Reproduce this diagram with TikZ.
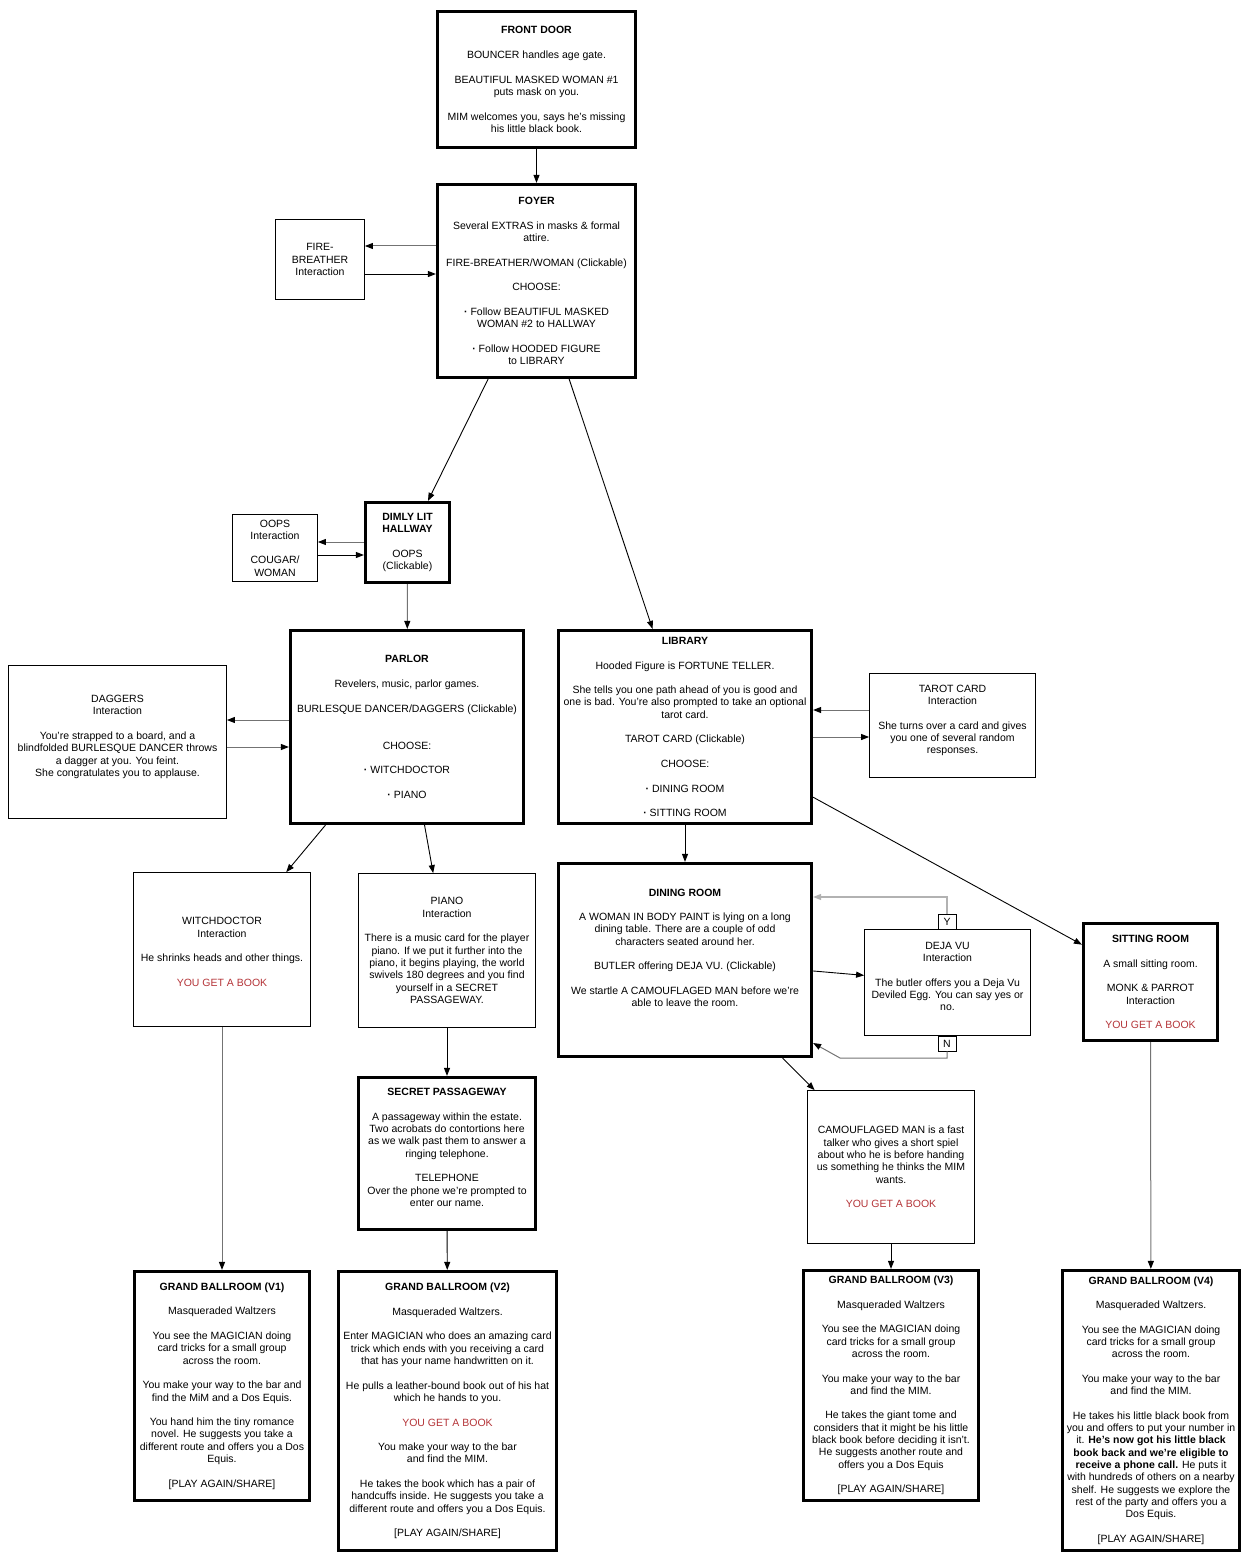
\documentclass[tikz,border=0pt]{standalone}
\usepackage{fontspec}
\setmainfont{Liberation Sans}
\usepackage{xcolor}
\usetikzlibrary{arrows.meta,positioning,calc}
\definecolor{bookred}{RGB}{180,52,56}
\newcommand{\pgap}{\\[12.3pt]}
\newcommand{\book}{\textcolor{bookred}{YOU GET A BOOK}}
\newcommand{\bul}{\textbf{·}}

\begin{document}
\begin{tikzpicture}[x=1pt, y=-1pt]
    % Define styles
    \tikzstyle{room} = [rectangle, draw=black, line width=3.2pt, align=center, inner sep=2pt, font=\fontsize{10.5}{12.3}\selectfont]
    \tikzstyle{interaction} = [rectangle, draw=black, line width=0.8pt, align=center, inner sep=2pt, font=\fontsize{10.5}{12.3}\selectfont]
    \tikzstyle{tab} = [rectangle, draw=black, line width=0.8pt, minimum width=18pt, minimum height=15pt, inner sep=0pt, font=\fontsize{10.5}{12.3}\selectfont]
    \tikzstyle{link} = [draw=black, line width=0.9pt, -{Triangle[length=8pt,width=6pt]}]
    \tikzstyle{dimlink} = [draw=black!55, line width=1pt, -{Triangle[length=8pt,width=6pt,color=black]}]
    \tikzstyle{palelink} = [draw=black!30, line width=1.2pt, -{Triangle[length=8pt,width=6pt]}]

    \useasboundingbox (0,0) rectangle (1246,1562);

    % Rooms
    \node[room, minimum width=198pt, minimum height=136pt] (frontdoor) at (536.5,79.5) {\textbf{FRONT DOOR}\pgap BOUNCER handles age gate.\pgap BEAUTIFUL MASKED WOMAN \#1\\puts mask on you.\pgap MIM welcomes you, says he's missing\\his little black book.};
    \node[room, minimum width=198pt, minimum height=193pt] (foyer) at (536.5,281) {\textbf{FOYER}\pgap Several EXTRAS in masks \& formal\\attire.\pgap FIRE-BREATHER/WOMAN (Clickable)\pgap CHOOSE:\pgap \bul{} Follow BEAUTIFUL MASKED\\WOMAN \#2 to HALLWAY\pgap \bul{} Follow HOODED FIGURE\\to LIBRARY};
    \node[room, minimum width=84pt, minimum height=80pt] (hallway) at (407.5,542.5) {\textbf{DIMLY LIT}\\\textbf{HALLWAY}\pgap OOPS\\(Clickable)};
    \node[room, minimum width=233pt, minimum height=193pt] (parlor) at (407,727) {\textbf{PARLOR}\pgap Revelers, music, parlor games.\pgap BURLESQUE DANCER/DAGGERS (Clickable)\\[24.6pt] CHOOSE:\pgap \bul{} WITCHDOCTOR\pgap \bul{} PIANO};
    \node[room, minimum width=253pt, minimum height=193pt] (library) at (685,727) {\textbf{LIBRARY}\pgap Hooded Figure is FORTUNE TELLER.\pgap She tells you one path ahead of you is good and\\one is bad. You’re also prompted to take an optional\\tarot card.\pgap TAROT CARD (Clickable)\pgap CHOOSE:\pgap \bul{} DINING ROOM\pgap \bul{} SITTING ROOM};
    \node[room, minimum width=253pt, minimum height=193pt] (dining) at (685,960) {\textbf{DINING ROOM}\pgap A WOMAN IN BODY PAINT is lying on a long\\dining table. There are a couple of odd\\characters seated around her.\pgap BUTLER offering DEJA VU. (Clickable)\pgap We startle A CAMOUFLAGED MAN before we’re\\able to leave the room.\pgap\mbox{}};
    \node[room, minimum width=134pt, minimum height=117pt] (sitting) at (1150.5,982) {\textbf{SITTING ROOM}\pgap A small sitting room.\pgap MONK \& PARROT\\Interaction\pgap \book};
    \node[room, minimum width=177pt, minimum height=152pt] (secret) at (447,1153.5) {\textbf{SECRET PASSAGEWAY}\pgap A passageway within the estate.\\Two acrobats do contortions here\\as we walk past them to answer a\\ringing telephone.\pgap TELEPHONE\\Over the phone we’re prompted to\\enter our name.\\\mbox{}};

    % Interactions
    \node[interaction, minimum width=89pt, minimum height=80pt] (firebreather) at (320,259.5) {FIRE-\\BREATHER\\Interaction};
    \node[interaction, minimum width=85pt, minimum height=67pt] (oops) at (275,548) {OOPS\\Interaction\pgap COUGAR/\\WOMAN};
    \node[interaction, minimum width=218pt, minimum height=153pt] (daggers) at (117.5,742) {DAGGERS\\Interaction\pgap You’re strapped to a board, and a\\blindfolded BURLESQUE DANCER throws\\a dagger at you. You feint.\\She congratulates you to applause.\\\mbox{}};
    \node[interaction, minimum width=166pt, minimum height=104pt] (tarot) at (952.5,725.5) {TAROT CARD\\Interaction\pgap She turns over a card and gives\\you one of several random\\responses.\\\mbox{}};
    \node[interaction, minimum width=177pt, minimum height=154pt] (witchdoctor) at (222,949.5) {\mbox{}\\WITCHDOCTOR\\Interaction\pgap He shrinks heads and other things.\pgap \book};
    \node[interaction, minimum width=177pt, minimum height=154pt] (piano) at (447,950.5) {PIANO\\Interaction\pgap There is a music card for the player\\piano. If we put it further into the\\piano, it begins playing, the world\\swivels 180 degrees and you find\\yourself in a SECRET\\PASSAGEWAY.};
    \node[interaction, minimum width=166pt, minimum height=106pt] (dejavu) at (947.5,982.5) {DEJA VU\\Interaction\pgap The butler offers you a Deja Vu\\Deviled Egg. You can say yes or\\no.\\\mbox{}};
    \node[tab] (yes) at (947,921.5) {Y};
    \node[tab] (no) at (947,1043.5) {N};
    \node[interaction, minimum width=167pt, minimum height=153pt] (camouflaged) at (891,1167) {CAMOUFLAGED MAN is a fast\\talker who gives a short spiel\\about who he is before handing\\us something he thinks the MIM\\wants.\pgap \book};

    % Ballrooms
    \node[room, minimum width=175pt, minimum height=229pt] (ballone) at (222,1386) {\textbf{GRAND BALLROOM (V1)}\pgap Masqueraded Waltzers\pgap You see the MAGICIAN doing\\card tricks for a small group\\across the room.\pgap You make your way to the bar and\\find the MiM and a Dos Equis.\pgap You hand him the tiny romance\\novel. He suggests you take a\\different route and offers you a Dos\\Equis.\pgap {[}PLAY AGAIN/SHARE{]}};
    \node[room, minimum width=218pt, minimum height=279pt] (balltwo) at (447.5,1411) {\textbf{GRAND BALLROOM (V2)}\pgap Masqueraded Waltzers.\pgap Enter MAGICIAN who does an amazing card\\trick which ends with you receiving a card\\that has your name handwritten on it.\pgap He pulls a leather-bound book out of his hat\\which he hands to you.\pgap \book\pgap You make your way to the bar\\and find the MIM.\pgap He takes the book which has a pair of\\handcuffs inside. He suggests you take a\\different route and offers you a Dos Equis.\pgap {[}PLAY AGAIN/SHARE{]}};
    \node[room, minimum width=175pt, minimum height=230pt] (ballthree) at (891,1385.5) {\textbf{GRAND BALLROOM (V3)}\pgap Masqueraded Waltzers\pgap You see the MAGICIAN doing\\card tricks for a small group\\across the room.\pgap You make your way to the bar\\and find the MIM.\pgap He takes the giant tome and\\considers that it might be his little\\black book before deciding it isn’t.\\He suggests another route and\\offers you a Dos Equis\pgap {[}PLAY AGAIN/SHARE{]}};
    \node[room, minimum width=177pt, minimum height=280pt] (ballfour) at (1151,1410.5) {\textbf{GRAND BALLROOM (V4)}\pgap Masqueraded Waltzers.\pgap You see the MAGICIAN doing\\card tricks for a small group\\across the room.\pgap You make your way to the bar\\and find the MIM.\pgap He takes his little black book from\\you and offers to put your number in\\it. \textbf{He’s now got his little black}\\\textbf{book back and we’re eligible to}\\\textbf{receive a phone call.} He puts it\\with hundreds of others on a nearby\\shelf. He suggests we explore the\\rest of the party and offers you a\\Dos Equis.\pgap {[}PLAY AGAIN/SHARE{]}};

    % Main flow
    \draw[link] (frontdoor) -- (foyer);
    \draw[link] (foyer) -- (hallway);
    \draw[link] (foyer) -- (library);
    \draw[dimlink] (hallway) -- (parlor);
    \draw[link] (parlor) -- (witchdoctor);
    \draw[link] (parlor) -- (piano);
    \draw[link] (library) -- (dining);
    \draw[link] (library) -- (sitting);
    \draw[link] (piano) -- (secret);
    \draw[link] (dining) -- (dejavu);
    \draw[link] (dining) -- (camouflaged);
    \draw[dimlink] (witchdoctor) -- (ballone);
    \draw[link] (secret) -- (balltwo);
    \draw[link] (camouflaged) -- (ballthree);
    \draw[dimlink] (sitting) -- (ballfour);

    % Side trips
    \draw[dimlink] (foyer.west |- 0,246) -- (firebreather.east |- 0,246);
    \draw[link] (firebreather.east |- 0,274) -- (foyer.west |- 0,274);
    \draw[dimlink] (hallway.west |- 0,542) -- (oops.east |- 0,542);
    \draw[link] (oops.east |- 0,555) -- (hallway.west |- 0,555);
    \draw[dimlink] (parlor.west |- 0,720) -- (daggers.east |- 0,720);
    \draw[dimlink] (daggers.east |- 0,747) -- (parlor.west |- 0,747);
    \draw[dimlink] (tarot.west |- 0,710) -- (library.east |- 0,710);
    \draw[dimlink] (library.east |- 0,737) -- (tarot.west |- 0,737);
    \draw[palelink] (yes.north) |- (dining.east |- 0,897);
    \draw[dimlink] (no.south) |- (840,1058) -- (dining.east |- 0,1043);

\end{tikzpicture}
\end{document}
